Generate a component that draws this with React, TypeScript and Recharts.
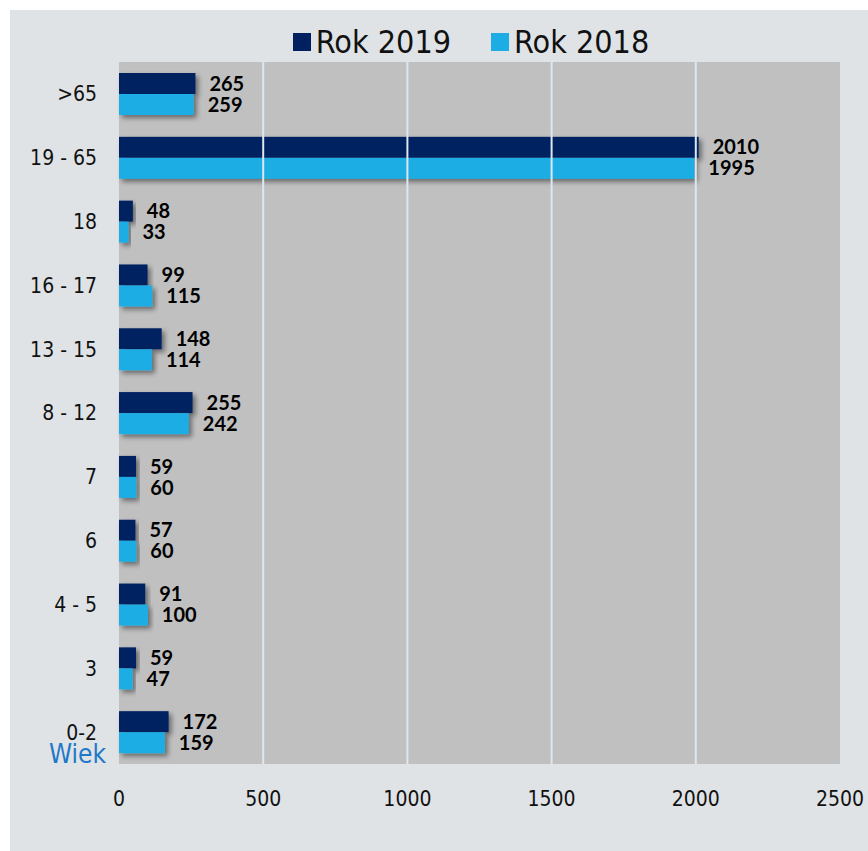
import React from 'react';
import {
  BarChart,
  Bar,
  XAxis,
  YAxis,
  CartesianGrid,
  Legend,
  LabelList,
  ReferenceLine,
} from 'recharts';

const categories = ['>65', '19 - 65', '18', '16 - 17', '13 - 15', '8 - 12', '7', '6', '4 - 5', '3', '0-2'];
const values2019 = [265, 2010, 48, 99, 148, 255, 59, 57, 91, 59, 172];
const values2018 = [259, 1995, 33, 115, 114, 242, 60, 60, 100, 47, 159];
const xTicks = [0, 500, 1000, 1500, 2000, 2500];
const gridLines = [500, 1000, 1500, 2000];

const DARK = '#002060';
const LIGHT = '#1cade4';

const legendItems = [
  { label: 'Rok 2019', color: DARK },
  { label: 'Rok 2018', color: LIGHT },
];

const data = categories.map((name, i) => ({
  name,
  y2019: values2019[i],
  y2018: values2018[i],
}));

const tickFont = { fill: '#111', fontFamily: '"DejaVu Sans Condensed", "DejaVu Sans", sans-serif', fontSize: 21 };

const ShadowBar = (props: any) => {
  const { x, y, width, height, fill } = props;
  if (width <= 0) return null;
  return <rect x={x} y={y} width={width} height={height} fill={fill} filter="url(#barShadow)" />;
};

const LegendContent = () => (
  <div style={{ display: 'flex', justifyContent: 'center', alignItems: 'center', paddingLeft: 92, height: 40 }}>
    {legendItems.map((item, i) => (
      <div key={i} style={{ display: 'flex', alignItems: 'center', marginLeft: i > 0 ? 40 : 0 }}>
        <span style={{ display: 'inline-block', width: 18, height: 18, background: item.color, marginRight: 5 }} />
        <span
          style={{
            fontFamily: '"DejaVu Sans Condensed", sans-serif',
            fontSize: 32,
            color: '#111',
            lineHeight: '40px',
          }}
        >
          {item.label}
        </span>
      </div>
    ))}
  </div>
);

const WiekLabel = (props: any) => {
  const vb = props.viewBox || {};
  return (
    <text
      x={vb.x + vb.width - 13}
      y={vb.y + vb.height - 1}
      textAnchor="end"
      fill="#1f78c8"
      fontFamily='"DejaVu Sans Condensed", sans-serif'
      fontSize={26}
    >
      Wiek
    </text>
  );
};

const App: React.FC = () => {
  return (
    <div style={{ position: 'absolute', left: 10, top: 10, width: 858, height: 841, background: '#dfe3e6' }}>
      <BarChart
        width={858}
        height={841}
        data={data}
        layout="vertical"
        margin={{ top: 12, right: 28, bottom: 27, left: 0 }}
        barSize={21}
        barGap={0}
      >
        <defs>
          <filter id="barShadow" x="-10%" y="-30%" width="130%" height="180%">
            <feDropShadow dx="3" dy="3" stdDeviation="2.5" floodColor="#000" floodOpacity="0.45" />
          </filter>
        </defs>
        <CartesianGrid horizontal={false} vertical={false} fill="#c0c0c0" />
        {gridLines.map((v) => (
          <ReferenceLine key={v} x={v} stroke="#dde7f0" strokeWidth={2} />
        ))}
        <XAxis
          type="number"
          domain={[0, 2500]}
          ticks={xTicks}
          axisLine={false}
          tickLine={false}
          height={60}
          tickMargin={21}
          tick={tickFont}
        />
        <YAxis
          type="category"
          dataKey="name"
          width={109}
          axisLine={false}
          tickLine={false}
          tickMargin={16}
          tick={tickFont}
          label={<WiekLabel />}
        />
        <Legend verticalAlign="top" height={40} content={<LegendContent />} />
        <Bar dataKey="y2019" name="Rok 2019" fill={DARK} shape={<ShadowBar />} isAnimationActive={false}>
          <LabelList
            dataKey="y2019"
            position="right"
            offset={14}
            fill="#000"
            fontFamily="Lato, sans-serif"
            fontWeight="bold"
            fontSize={20}
          />
        </Bar>
        <Bar dataKey="y2018" name="Rok 2018" fill={LIGHT} shape={<ShadowBar />} isAnimationActive={false}>
          <LabelList
            dataKey="y2018"
            position="right"
            offset={14}
            fill="#000"
            fontFamily="Lato, sans-serif"
            fontWeight="bold"
            fontSize={20}
          />
        </Bar>
      </BarChart>
    </div>
  );
};

export default App;
